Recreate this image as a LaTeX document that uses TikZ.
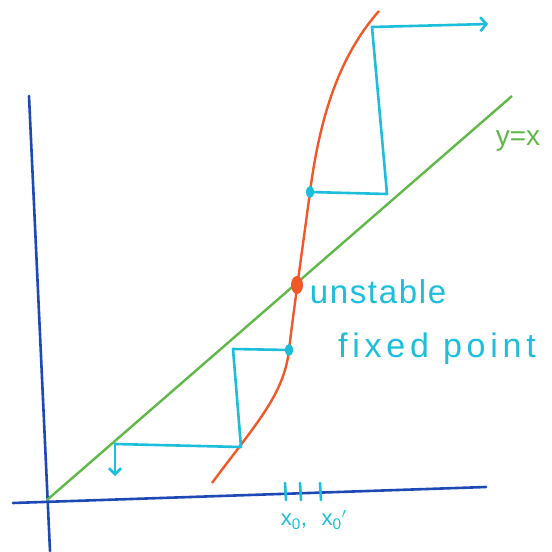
\documentclass[tikz,border=0pt]{standalone}
\usepackage{fontspec}
\setmainfont{Liberation Sans}
\usetikzlibrary{arrows.meta,shapes.geometric}
\definecolor{axisblue}{RGB}{30,72,180}
\definecolor{linegreen}{RGB}{96,184,72}
\definecolor{curveorange}{RGB}{240,88,40}
\definecolor{webcyan}{RGB}{28,190,220}
\begin{document}
\begin{tikzpicture}[x=1pt,y=-1pt,
	axis/.style={ axisblue, line width=2.6pt, line cap=round },
	web/.style={ webcyan, line width=2.6pt, line cap=round, line join=round },
	dot/.style={ webcyan, ellipse, fill, inner sep=0pt, minimum width=8pt, minimum height=12pt },
	fixdot/.style={ curveorange, ellipse, fill, inner sep=0pt, minimum width=12pt, minimum height=18pt },
	hand/.style={ webcyan, font=\fontsize{33}{35}\selectfont\addfontfeature{LetterSpace=5} }
]
	\useasboundingbox (0,0) rectangle (552,552);
	% axes
	\coordinate (ytop) at (29,96);
	\coordinate (ybot) at (50,551);
	\coordinate (xl) at (13,503);
	\coordinate (xr) at (486,487);
	\draw[axis] (ybot) -- (ytop);
	\draw[axis] (xl) -- (xr);
	% diagonal
	\coordinate (o) at (47,500);
	\coordinate (d) at (512,96);
	\draw[linegreen, line width=2.4pt] (o) -- (d);
	\node at (518,141) (yx) [linegreen, font=\fontsize{28}{30}\selectfont] {y=x};
	% map
	\coordinate (c0) at (212,483);
	\coordinate (c1) at (289,350);
	\coordinate (c2) at (310,192);
	\coordinate (c3) at (379,11);
	\draw[curveorange, line width=2.4pt] (c0) .. controls (255,425) and (284,395) .. (c1)
		.. controls (292.3,320) and (305,230) .. (c2)
		.. controls (320,115) and (340,55) .. (c3);
	\node at (297,285) (fp) [fixdot] {};
	\node at (c1) (a0) [dot] {};
	\node at (c2) (b0) [dot] {};
	% lower cobweb
	\coordinate (a1) at (233,349);
	\coordinate (a2) at (241,447);
	\coordinate (a3) at (115,444);
	\coordinate (a4) at (115,476);
	\draw[web] (a0) -- (a1) -- (a2) -- (a3);
	\draw[web, -{Straight Barb[length=6pt,width=12pt]}] (a3) -- (a4);
	% upper cobweb
	\coordinate (b1) at (387,194);
	\coordinate (b2) at (372,27);
	\coordinate (b3) at (488,24);
	\draw[web] (b0) -- (b1) -- (b2);
	\draw[web, -{Straight Barb[length=6pt,width=14pt]}] (b2) -- (b3);
	% ticks
	\foreach \t in {285,300,320}
		\draw[web] (\t,483) -- (\t+1,500);
	\node at (294,522) (x0) [webcyan, font=\fontsize{22}{24}\selectfont] {x\textsubscript{0},};
	\node at (334,520) (x0p) [webcyan, font=\fontsize{22}{24}\selectfont] {x\textsubscript{0}$'$};
	% label
	\node at (378,292) (l1) [hand] {unstable};
	\node at (437,349) (l2) [hand, font=\fontsize{34}{36}\selectfont\addfontfeature{LetterSpace=14}] {fixed\hspace{14pt}point};
\end{tikzpicture}
\end{document}
